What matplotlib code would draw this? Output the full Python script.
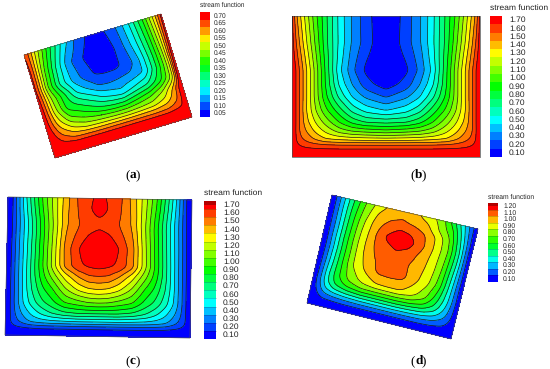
import numpy as np
import matplotlib
matplotlib.use('Agg')
import matplotlib.pyplot as plt
from matplotlib.colors import LinearSegmentedColormap
from matplotlib.patches import Rectangle, Polygon

plt.rcParams['font.family'] = ['Liberation Sans', 'DejaVu Sans']
plt.rcParams['text.hinting'] = 'no_hinting'

# panel (a): stream function, rows go top wall to bottom wall
a_u = [0, 40, 80, 120, 160, 190, 218, 250, 290, 330, 370, 400, 415, 429]
a_v = [0, 60, 115, 150, 190, 225, 255, 280, 300, 324]
a_psi = [
    [.68, .49, .33, .205, .115, .075, .04, .075, .13, .23, .37, .515, .595, .70],
    [.70, .45, .275, .14, .08, .05, .04, .05, .115, .21, .345, .49, .58, .71],
    [.70, .43, .26, .16, .10, .07, .065, .065, .09, .18, .325, .465, .575, .72],
    [.71, .475, .34, .215, .16, .12, .115, .125, .14, .175, .32, .455, .56, .73],
    [.72, .50, .36, .32, .27, .23, .21, .19, .235, .275, .36, .46, .565, .74],
    [.72, .55, .445, .405, .37, .35, .34, .34, .375, .415, .485, .585, .66, .74],
    [.73, .61, .54, .50, .49, .485, .48, .48, .49, .505, .55, .61, .66, .75],
    [.74, .665, .625, .62, .615, .615, .615, .615, .615, .615, .625, .655, .675, .75],
    [.75, .72, .71, .71, .71, .71, .71, .71, .71, .71, .71, .72, .73, .75],
    [.76, .76, .76, .76, .76, .76, .76, .76, .76, .76, .76, .76, .76, .76],
]
a_ticks = ['0.05', '0.10', '0.15', '0.20', '0.25', '0.30', '0.35', '0.40',
           '0.45', '0.50', '0.55', '0.60', '0.65', '0.70']

# panel (b): left half, distance from the centre line, the right half mirrors it
b_d = [0, 60, 100, 140, 180, 210, 240, 262, 275, 282]
b_v = [0, 80, 120, 163, 205, 243, 283, 318, 345, 370, 390, 410, 423]
b_psi = [
    [.05, .19, .33, .52, .77, .97, 1.21, 1.40, 1.53, 1.72],
    [.05, .20, .33, .525, .78, 1.02, 1.27, 1.47, 1.61, 1.72],
    [.05, .165, .30, .51, .80, 1.06, 1.32, 1.52, 1.65, 1.73],
    [.05, .125, .27, .48, .82, 1.10, 1.37, 1.57, 1.70, 1.75],
    [.085, .19, .34, .53, .83, 1.10, 1.37, 1.57, 1.70, 1.75],
    [.24, .33, .44, .625, .87, 1.10, 1.37, 1.57, 1.70, 1.75],
    [.44, .51, .61, .79, .97, 1.145, 1.36, 1.57, 1.70, 1.75],
    [.71, .73, .81, .94, 1.10, 1.235, 1.39, 1.57, 1.70, 1.75],
    [.97, 1.00, 1.03, 1.10, 1.22, 1.32, 1.45, 1.56, 1.70, 1.75],
    [1.28, 1.29, 1.30, 1.32, 1.35, 1.43, 1.52, 1.59, 1.70, 1.75],
    [1.58, 1.58, 1.58, 1.58, 1.59, 1.60, 1.62, 1.66, 1.71, 1.76],
    [1.72, 1.72, 1.72, 1.72, 1.72, 1.72, 1.73, 1.73, 1.74, 1.76],
    [1.80, 1.80, 1.80, 1.80, 1.80, 1.80, 1.80, 1.80, 1.80, 1.80],
]
b_ticks = ['0.10', '0.20', '0.30', '0.40', '0.50', '0.60', '0.70', '0.80', '0.90',
           '1.00', '1.10', '1.20', '1.30', '1.40', '1.50', '1.60', '1.70']

# panel (c): left half again
c_d = [0, 30, 60, 100, 140, 170, 200, 225, 245, 258, 268, 276]
c_v = [0, 30, 58, 75, 91, 150, 204, 233, 273, 313, 345, 370, 390, 412]
c_psi = [
    [1.70, 1.62, 1.58, 1.41, 1.17, .97, .72, .50, .30, .17, .08, .02],
    [1.74, 1.63, 1.57, 1.42, 1.16, .95, .70, .48, .30, .17, .08, .02],
    [1.65, 1.60, 1.56, 1.43, 1.15, .92, .67, .46, .29, .17, .09, .03],
    [1.60, 1.59, 1.55, 1.43, 1.14, .91, .66, .45, .29, .17, .09, .03],
    [1.65, 1.62, 1.56, 1.44, 1.14, .90, .65, .45, .29, .17, .09, .03],
    [1.76, 1.73, 1.65, 1.49, 1.16, .92, .67, .46, .30, .18, .10, .03],
    [1.68, 1.66, 1.63, 1.48, 1.17, .93, .68, .47, .30, .19, .10, .03],
    [1.55, 1.54, 1.46, 1.30, 1.08, .90, .68, .47, .30, .19, .10, .03],
    [1.35, 1.33, 1.27, 1.13, .93, .82, .65, .47, .30, .19, .10, .03],
    [1.05, 1.04, 1.00, .95, .81, .72, .59, .45, .30, .19, .10, .03],
    [.75, .75, .75, .72, .65, .57, .47, .37, .27, .18, .10, .03],
    [.44, .44, .44, .43, .42, .40, .37, .29, .22, .17, .10, .03],
    [.15, .15, .15, .15, .15, .15, .14, .13, .12, .10, .07, .03],
    [.02, .02, .02, .02, .02, .02, .02, .02, .02, .02, .02, .02],
]

# panel (d)
d_u = [0, 16, 42, 70, 106, 150, 190, 224, 260, 300, 340, 375, 410, 437, 448]
d_v = [0, 30, 55, 86, 118, 150, 190, 232, 254, 273, 291, 311, 334]
d_psi = [
    [.05, .15, .35, .55, .75, .91, .99, 1.02, .97, .90, .80, .60, .34, .15, .05],
    [.05, .15, .36, .57, .78, .97, 1.04, 1.06, 1.03, .98, .83, .70, .40, .15, .05],
    [.05, .15, .36, .58, .81, 1.01, 1.10, 1.15, 1.13, 1.05, .92, .75, .44, .16, .05],
    [.05, .15, .36, .59, .83, 1.03, 1.17, 1.24, 1.19, 1.07, .92, .77, .47, .16, .05],
    [.05, .15, .37, .60, .84, 1.04, 1.10, 1.15, 1.12, 1.02, .91, .75, .46, .16, .05],
    [.05, .15, .37, .60, .84, 1.03, 1.08, 1.08, 1.07, 1.00, .90, .73, .43, .16, .05],
    [.05, .16, .39, .61, .84, .98, 1.08, 1.09, 1.08, .98, .87, .70, .40, .15, .05],
    [.05, .18, .43, .62, .78, .88, .94, .95, .95, .89, .78, .60, .37, .15, .05],
    [.05, .19, .42, .58, .68, .75, .75, .75, .75, .73, .66, .53, .33, .14, .05],
    [.05, .17, .36, .46, .52, .55, .55, .55, .55, .53, .50, .42, .28, .13, .05],
    [.05, .13, .25, .30, .33, .35, .35, .35, .35, .34, .32, .28, .21, .11, .05],
    [.05, .09, .13, .14, .15, .15, .15, .15, .15, .15, .15, .14, .12, .08, .05],
    [.04, .04, .04, .04, .04, .04, .04, .04, .04, .04, .04, .04, .04, .04, .04],
]
d_ticks = ['0.10', '0.20', '0.30', '0.40', '0.50', '0.60', '0.70', '0.80', '0.90',
           '1.00', '1.10', '1.20']

rainbow = LinearSegmentedColormap.from_list(
    'rainbow5', ['#0000ff', '#00ffff', '#00ff00', '#ffff00', '#ff0000'])


def mirror(d, psi):
    # b and c are nearly symmetric so only one half was read
    d = np.array(d, dtype=float)
    psi = np.array(psi)
    return np.concatenate([-d[::-1], d[1:]]), np.hstack([psi[:, ::-1], psi[:, 1:]])


def soften(u, v, psi, width=13):
    # the read grid is coarse, round its corners so the contours do not kink
    psi = np.array(psi, dtype=float)
    fu = np.arange(u[0], u[-1] + 2, 2.0)
    fv = np.arange(v[0], v[-1] + 2, 2.0)
    fine = np.array([np.interp(fu, u, row) for row in psi])
    fine = np.array([np.interp(fv, v, col) for col in fine.T]).T
    k = np.hanning(width + 2)[1:-1]
    k = k / k.sum()
    pad = width // 2
    for axis in [0, 1]:
        fine = np.apply_along_axis(
            lambda s: np.convolve(np.pad(s, pad, mode='edge'), k, mode='valid'), axis, fine)
    return fu, fv, fine


def draw_panel(ax, corners, u, v, psi, ticks):
    tl, tr, br, bl = [np.array(c, dtype=float) for c in corners]
    u, v, psi = soften(np.array(u, dtype=float), np.array(v, dtype=float), psi)
    s, t = np.meshgrid((u - u[0]) / (u[-1] - u[0]), (v - v[0]) / (v[-1] - v[0]))
    X = (1 - t) * ((1 - s) * tl[0] + s * tr[0]) + t * ((1 - s) * bl[0] + s * br[0])
    Y = (1 - t) * ((1 - s) * tl[1] + s * tr[1]) + t * ((1 - s) * bl[1] + s * br[1])
    vals = np.array([float(x) for x in ticks])
    step = vals[1] - vals[0]
    edges = np.append(vals - step / 2, vals[-1] + step / 2)
    colors = rainbow(np.linspace(0, 1, len(vals)))
    fill_levels = np.concatenate([[-1], edges[1:-1], [9]])
    ax.contourf(X, Y, psi, levels=fill_levels, colors=colors)
    ax.contour(X, Y, psi, levels=edges[1:-1], colors='#181818', linewidths=0.5)
    ax.add_patch(Polygon([tl, tr, br, bl], closed=True, fill=False, ec='#505050', lw=0.5))
    return vals, colors


def draw_legend(ax, vals, colors, ticks, x0, x1, y0, y1, lab_x, title_y, size, ruled=False):
    h = (y1 - y0) / len(vals)
    for i in range(len(vals)):
        ax.add_patch(Rectangle((x0, y1 - (i + 1) * h), x1 - x0, h, fc=colors[i], ec='none'))
        ax.text(lab_x, y1 - (i + 0.5) * h, ticks[i], fontsize=size, va='center', ha='left',
                color='#222222')
    if ruled:
        # c and d have dark rules in the bar and a darker top cell
        for i in range(1, len(vals)):
            ax.plot([x0, x1], [y1 - i * h, y1 - i * h], color='black', alpha=0.25, lw=0.5)
        ax.add_patch(Rectangle((x0, y0), x1 - x0, h * 0.5, fc='black', alpha=0.3, ec='none'))
    ax.text(x0, title_y, 'stream function', fontsize=size, va='center', ha='left',
            color='#222222')


fig = plt.figure(figsize=(5.5, 3.69), dpi=100)
ax = fig.add_axes([0, 0, 1, 1])
ax.set_xlim(0, 550)
ax.set_ylim(369, 0)
ax.axis('off')

# (a)
vals, colors = draw_panel(ax, [(24, 55), (161, 14), (192, 117), (55, 158)], a_u, a_v, a_psi, a_ticks)
draw_legend(ax, vals, colors, a_ticks, 200, 209.5, 12, 117, 214, 5.5, 4.7)

# (b)
u, p = mirror(b_d, b_psi)
vals, colors = draw_panel(ax, [(292, 16), (480, 16), (480, 157), (292, 157)], u, b_v, p, b_ticks)
draw_legend(ax, vals, colors, b_ticks, 490, 502, 16, 157, 509, 8, 6.1)

# (c)
u, p = mirror(c_d, c_psi)
vals, colors = draw_panel(ax, [(8, 197), (192, 200), (190, 338), (5, 335)], u, c_v, p, b_ticks)
draw_legend(ax, vals, colors, b_ticks, 204, 216, 201, 339, 223, 193, 6.1, ruled=True)

# (d)
vals, colors = draw_panel(ax, [(332, 195), (478, 229), (451, 339), (307, 303)], d_u, d_v, d_psi, d_ticks)
draw_legend(ax, vals, colors, d_ticks, 488, 497.7, 203, 282, 503, 197, 4.9, ruled=True)

for lab, x, y in [('a', 129.5, 175), ('b', 415, 175), ('c', 129.5, 361), ('d', 415, 361)]:
    ax.text(x, y, '(', fontsize=9.5, family='Liberation Serif', ha='right', va='center')
    ax.text(x, y, lab, fontsize=9.5, family='Liberation Serif', weight='bold', ha='left', va='center')
    ax.text(x + 6.5, y, ')', fontsize=9.5, family='Liberation Serif', ha='left', va='center')

fig.savefig('out.png', dpi=100)
